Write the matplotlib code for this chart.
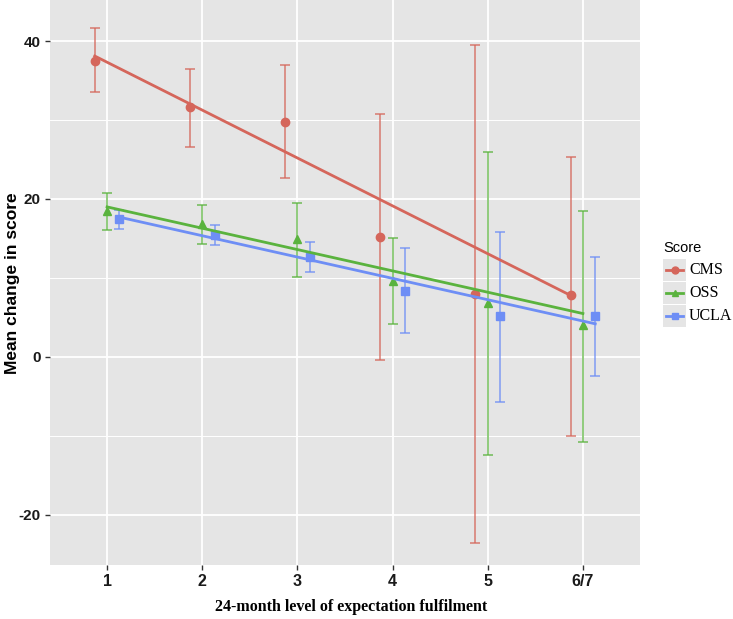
import matplotlib
matplotlib.use("Agg")
import matplotlib.pyplot as plt
from matplotlib.lines import Line2D
from matplotlib.patches import Rectangle
import numpy as np

plt.rcParams["axes.unicode_minus"] = False

levels = ["1", "2", "3", "4", "5", "6/7"]
series = ["CMS", "OSS", "UCLA"]
colors = {"CMS": "#D5665B", "OSS": "#5AB33E", "UCLA": "#6E8EF5"}
markers = {"CMS": "o", "OSS": "^", "UCLA": "s"}
dodge = {"CMS": -0.13, "OSS": 0.0, "UCLA": 0.13}

cms_mean = [37.5, 31.6, 29.8, 15.2, 8.0, 7.8]
cms_low = [33.5, 26.6, 22.7, -0.4, -23.5, -10.0]
cms_high = [41.7, 36.4, 37.0, 30.8, 39.5, 25.3]

oss_mean = [18.5, 16.8, 14.9, 9.6, 6.8, 4.0]
oss_low = [16.1, 14.3, 10.1, 4.2, -12.4, -10.7]
oss_high = [20.8, 19.2, 19.5, 15.0, 26.0, 18.5]

ucla_mean = [17.5, 15.5, 12.7, 8.4, 5.2, 5.2]
ucla_low = [16.2, 14.2, 10.8, 3.0, -5.7, -2.4]
ucla_high = [18.6, 16.7, 14.6, 13.8, 15.8, 12.6]

# fitted line values at first and last level
fit_start = {"CMS": 38.1, "OSS": 19.0, "UCLA": 17.7}
fit_end = {"CMS": 7.8, "OSS": 5.5, "UCLA": 4.2}

data = {
    "CMS": (cms_mean, cms_low, cms_high),
    "OSS": (oss_mean, oss_low, oss_high),
    "UCLA": (ucla_mean, ucla_low, ucla_high),
}

W, H = 733, 619
fig = plt.figure(figsize=(W / 100, H / 100), dpi=100)
ax = fig.add_axes([50 / W, 54 / H, 590 / W, 565 / H])
ax.set_facecolor("#E5E5E5")
for s in ax.spines.values():
    s.set_visible(False)

x = np.arange(1, len(levels) + 1)
ax.set_xlim(0.4, 6.6)
ax.set_ylim(-26.33, 45.19)
ax.set_yticks([-20, 0, 20, 40])
ax.set_yticks([-10, 10, 30], minor=True)
ax.set_xticks(x)
ax.set_xticklabels(levels)
ax.grid(True, which="major", color="white", lw=1.3)
ax.grid(True, which="minor", axis="y", color="white", lw=0.7)
ax.set_axisbelow(True)
ax.tick_params(axis="both", which="major", length=3.5, width=1, color="#333333", pad=3)
ax.tick_params(axis="y", which="minor", length=0)

for lab in ax.get_yticklabels():
    lab.set_fontfamily(["Liberation Sans", "DejaVu Sans"])
    lab.set_fontweight("bold")
    lab.set_fontsize(11)
    lab.set_color("#1a1a1a")
for lab in ax.get_xticklabels():
    lab.set_fontfamily(["Liberation Sans Narrow", "Liberation Sans", "DejaVu Sans"])
    lab.set_fontweight("bold")
    lab.set_fontsize(11.5)
    lab.set_color("#1a1a1a")

for s in series:
    m, lo, hi = data[s]
    m = np.array(m); lo = np.array(lo); hi = np.array(hi)
    xs = x + dodge[s]
    ax.errorbar(xs, m, yerr=[m - lo, hi - m], fmt="none", ecolor=colors[s],
                elinewidth=1.1, capsize=3.5, capthick=1.1, alpha=0.85, zorder=3)
    ax.plot(xs, m, linestyle="none", marker=markers[s], color=colors[s],
            markersize=6, zorder=4)
    ax.plot([xs[0], xs[-1]], [fit_start[s], fit_end[s]], color=colors[s],
            lw=2.0, zorder=5)

fig.text(13 / W, 1 - 283 / H, "Mean change in score", rotation=90,
         ha="center", va="center", fontfamily=["Liberation Sans", "DejaVu Sans"],
         fontweight="bold", fontsize=12.5)
fig.text(351 / W, 1 - 607 / H, "24-month level of expectation fulfilment",
         ha="center", va="center", fontfamily=["Liberation Serif", "DejaVu Serif"],
         fontweight="bold", fontsize=11.5)

# legend (manual, ggplot style)
fig.text(663 / W, 1 - 248 / H, "Score", ha="left", va="center",
         fontfamily=["Liberation Sans", "DejaVu Sans"], fontsize=10.5)
ys = [270, 293, 316]
for s, yc in zip(series, ys):
    fig.patches.append(Rectangle((663 / W, 1 - (yc + 11) / H), 23 / W, 22 / H,
                                 transform=fig.transFigure, facecolor="#E5E5E5",
                                 edgecolor="none"))
    fig.lines.append(Line2D([666 / W, 683 / W], [1 - yc / H, 1 - yc / H],
                            transform=fig.transFigure, color=colors[s], lw=2,
                            marker=None))
    fig.lines.append(Line2D([674.5 / W], [1 - yc / H], transform=fig.transFigure,
                            color=colors[s], marker=markers[s], markersize=5,
                            linestyle="none"))
    fig.text(689 / W, 1 - yc / H, s, ha="left", va="center",
             fontfamily=["Liberation Serif", "DejaVu Serif"], fontsize=11.5)

fig.savefig("out.png", dpi=100)
